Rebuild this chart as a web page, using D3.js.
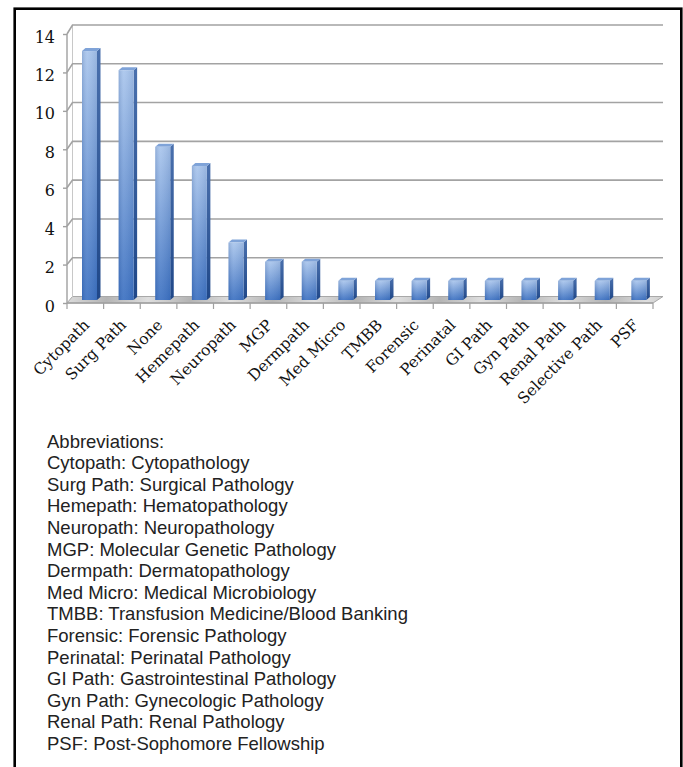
<!DOCTYPE html>
<html>
<head>
<meta charset="utf-8">
<script src="https://cdn.jsdelivr.net/npm/d3@7"></script>
<style>
  html, body { margin: 0; padding: 0; background: #fff; }
  svg { display: block; }
</style>
</head>
<body>
<svg id="chart" width="683" height="767"></svg>
<script>
// Fellowship choices (counts)
const categories = ["Cytopath", "Surg Path", "None", "Hemepath", "Neuropath", "MGP", "Dermpath",
  "Med Micro", "TMBB", "Forensic", "Perinatal", "GI Path", "Gyn Path", "Renal Path", "Selective Path", "PSF"];
const counts = [13, 12, 8, 7, 3, 2, 2, 1, 1, 1, 1, 1, 1, 1, 1, 1];
const yTicks = [0, 2, 4, 6, 8, 10, 12, 14];
const abbreviations = [
  "Abbreviations:",
  "Cytopath: Cytopathology",
  "Surg Path: Surgical Pathology",
  "Hemepath: Hematopathology",
  "Neuropath: Neuropathology",
  "MGP: Molecular Genetic Pathology",
  "Dermpath: Dermatopathology",
  "Med Micro: Medical Microbiology",
  "TMBB: Transfusion Medicine/Blood Banking",
  "Forensic: Forensic Pathology",
  "Perinatal: Perinatal Pathology",
  "GI Path: Gastrointestinal Pathology",
  "Gyn Path: Gynecologic Pathology",
  "Renal Path: Renal Pathology",
  "PSF: Post-Sophomore Fellowship"
];

const svg = d3.select("#chart");
const defs = svg.append("defs");

// outer frame
svg.append("rect")
  .attr("x", 14.7).attr("y", 8.7)
  .attr("width", 666.6).attr("height", 800)
  .attr("fill", "none").attr("stroke", "#000").attr("stroke-width", 2.6);

// scales: front plane (axis), bar plane, back wall
const x = d3.scaleBand().domain(categories).range([67, 653]).padding(0);
const yFront = d3.scaleLinear().domain([0, 14]).range([303, 34]);
const yBar = d3.scaleLinear().domain([0, 14]).range([300, 31.9]);
const yBack = d3.scaleLinear().domain([0, 14]).range([296.5, 25]);
const x0 = x.range()[0], x1 = x.range()[1];
// horizontal depth shift grows slightly to the right (perspective)
const backDx = xf => 5.5 + 4.5 * (xf - x0) / (x1 - x0);

const g = svg.append("g");

// floor gradient
const floorGrad = defs.append("linearGradient").attr("id", "floorGrad")
  .attr("gradientUnits", "userSpaceOnUse")
  .attr("x1", 0).attr("y1", 0).attr("x2", 40).attr("y2", 8)
  .attr("spreadMethod", "reflect");
floorGrad.append("stop").attr("offset", "0%").attr("stop-color", "#b4b4b4");
floorGrad.append("stop").attr("offset", "100%").attr("stop-color", "#dedede");

// floor
const fy0 = yFront(0), by0 = yBack(0);
g.append("path")
  .attr("d", `M${x0},${fy0} L${x1},${fy0} L${x1 + backDx(x1)},${by0} L${x0 + backDx(x0)},${by0} Z`)
  .attr("fill", "url(#floorGrad)")
  .attr("stroke", "#a8a8a8").attr("stroke-width", 1);

// back wall left edge
g.append("line")
  .attr("x1", x0 + backDx(x0)).attr("x2", x0 + backDx(x0))
  .attr("y1", yBack(14)).attr("y2", yBack(0))
  .attr("stroke", "#c8c8c8").attr("stroke-width", 1);

// gridlines on back wall, joined to axis across the side wall
yTicks.filter(v => v > 0).forEach(v => {
  g.append("polyline")
    .attr("points", `${x0},${yFront(v)} ${x0 + backDx(x0)},${yBack(v)} ${x1 + backDx(x1)},${yBack(v)}`)
    .attr("fill", "none")
    .attr("stroke", "#a3a3a3").attr("stroke-width", 1.6);
});

// y axis line + ticks
g.append("line")
  .attr("x1", x0).attr("x2", x0)
  .attr("y1", yFront(14)).attr("y2", yFront(0))
  .attr("stroke", "#a0a0a0").attr("stroke-width", 1.4);
const yAxis = d3.axisLeft(yFront).tickValues(yTicks).tickSize(4).tickPadding(8).tickFormat(d3.format("d"));
const ya = g.append("g").attr("transform", `translate(${x0},0)`).call(yAxis);
ya.select(".domain").remove();
ya.selectAll(".tick line").attr("stroke", "#a0a0a0").attr("stroke-width", 1.4);
ya.selectAll(".tick text")
  .attr("font-family", "'DejaVu Serif', serif")
  .attr("font-size", 16).attr("fill", "#111")
  .attr("dy", "0.5em");

// x axis ticks at category boundaries
const xa = g.append("g").attr("transform", `translate(0,${fy0})`);
const bounds = categories.map(c => x(c)).concat([x1]);
xa.selectAll("line.xt").data(bounds).join("line")
  .attr("class", "xt")
  .attr("x1", d => d).attr("x2", d => d)
  .attr("y1", 0).attr("y2", 6)
  .attr("stroke", "#a0a0a0").attr("stroke-width", 1.2);

// front edge of floor
g.append("line")
  .attr("x1", x0).attr("x2", x1).attr("y1", fy0).attr("y2", fy0)
  .attr("stroke", "#a0a0a0").attr("stroke-width", 1.4);

// bar gradients
const frontGrad = defs.append("linearGradient").attr("id", "barFront")
  .attr("x1", 0).attr("y1", 0).attr("x2", 0).attr("y2", 1);
frontGrad.append("stop").attr("offset", "0%").attr("stop-color", "#a9c5ec");
frontGrad.append("stop").attr("offset", "100%").attr("stop-color", "#3b70c1");
const frontShade = defs.append("linearGradient").attr("id", "barShade")
  .attr("x1", 0).attr("y1", 0).attr("x2", 1).attr("y2", 0);
frontShade.append("stop").attr("offset", "0%").attr("stop-color", "#1d3f7a").attr("stop-opacity", 0.18);
frontShade.append("stop").attr("offset", "35%").attr("stop-color", "#ffffff").attr("stop-opacity", 0.08);
frontShade.append("stop").attr("offset", "100%").attr("stop-color", "#1d3f7a").attr("stop-opacity", 0.12);
const sideGrad = defs.append("linearGradient").attr("id", "barSide")
  .attr("x1", 0).attr("y1", 0).attr("x2", 0).attr("y2", 1);
sideGrad.append("stop").attr("offset", "0%").attr("stop-color", "#4a70ad");
sideGrad.append("stop").attr("offset", "100%").attr("stop-color", "#1f4788");

// bars
const barOff = 15, barW = 15, dX = 3.5, dY = -3;
const bars = g.append("g").selectAll("g.bar")
  .data(categories.map((c, i) => ({ c, v: counts[i] })))
  .join("g").attr("class", "bar");
bars.append("path")
  .attr("d", d => {
    const l = x(d.c) + barOff, r = l + barW, t = yBar(d.v), b = yBar(0);
    return `M${r},${t} L${r + dX},${t + dY} L${r + dX},${b + dY} L${r},${b} Z`;
  })
  .attr("fill", "url(#barSide)");
bars.append("path")
  .attr("d", d => {
    const l = x(d.c) + barOff, r = l + barW, t = yBar(d.v);
    return `M${l},${t} L${r},${t} L${r + dX},${t + dY} L${l + dX},${t + dY} Z`;
  })
  .attr("fill", "#7fa3d8");
bars.append("rect")
  .attr("x", d => x(d.c) + barOff).attr("width", barW)
  .attr("y", d => yBar(d.v)).attr("height", d => yBar(0) - yBar(d.v))
  .attr("fill", "url(#barFront)");
bars.append("rect")
  .attr("x", d => x(d.c) + barOff).attr("width", barW)
  .attr("y", d => yBar(d.v)).attr("height", d => yBar(0) - yBar(d.v))
  .attr("fill", "url(#barShade)");

// category labels
g.append("g").selectAll("text")
  .data(categories).join("text")
  .attr("transform", c => `translate(${x(c) + x.bandwidth() / 2 + 5},${326}) rotate(-45)`)
  .attr("text-anchor", "end")
  .attr("font-family", "'DejaVu Serif', serif")
  .attr("font-size", 15.5).attr("fill", "#111")
  .text(c => c);

// abbreviation list
svg.append("g").selectAll("text")
  .data(abbreviations).join("text")
  .attr("x", 47)
  .attr("y", (d, i) => 447.5 + i * 21.6)
  .attr("font-family", "'Liberation Sans', Arial, sans-serif")
  .attr("font-size", 18.5).attr("fill", "#222")
  .text(d => d);
</script>
</body>
</html>
